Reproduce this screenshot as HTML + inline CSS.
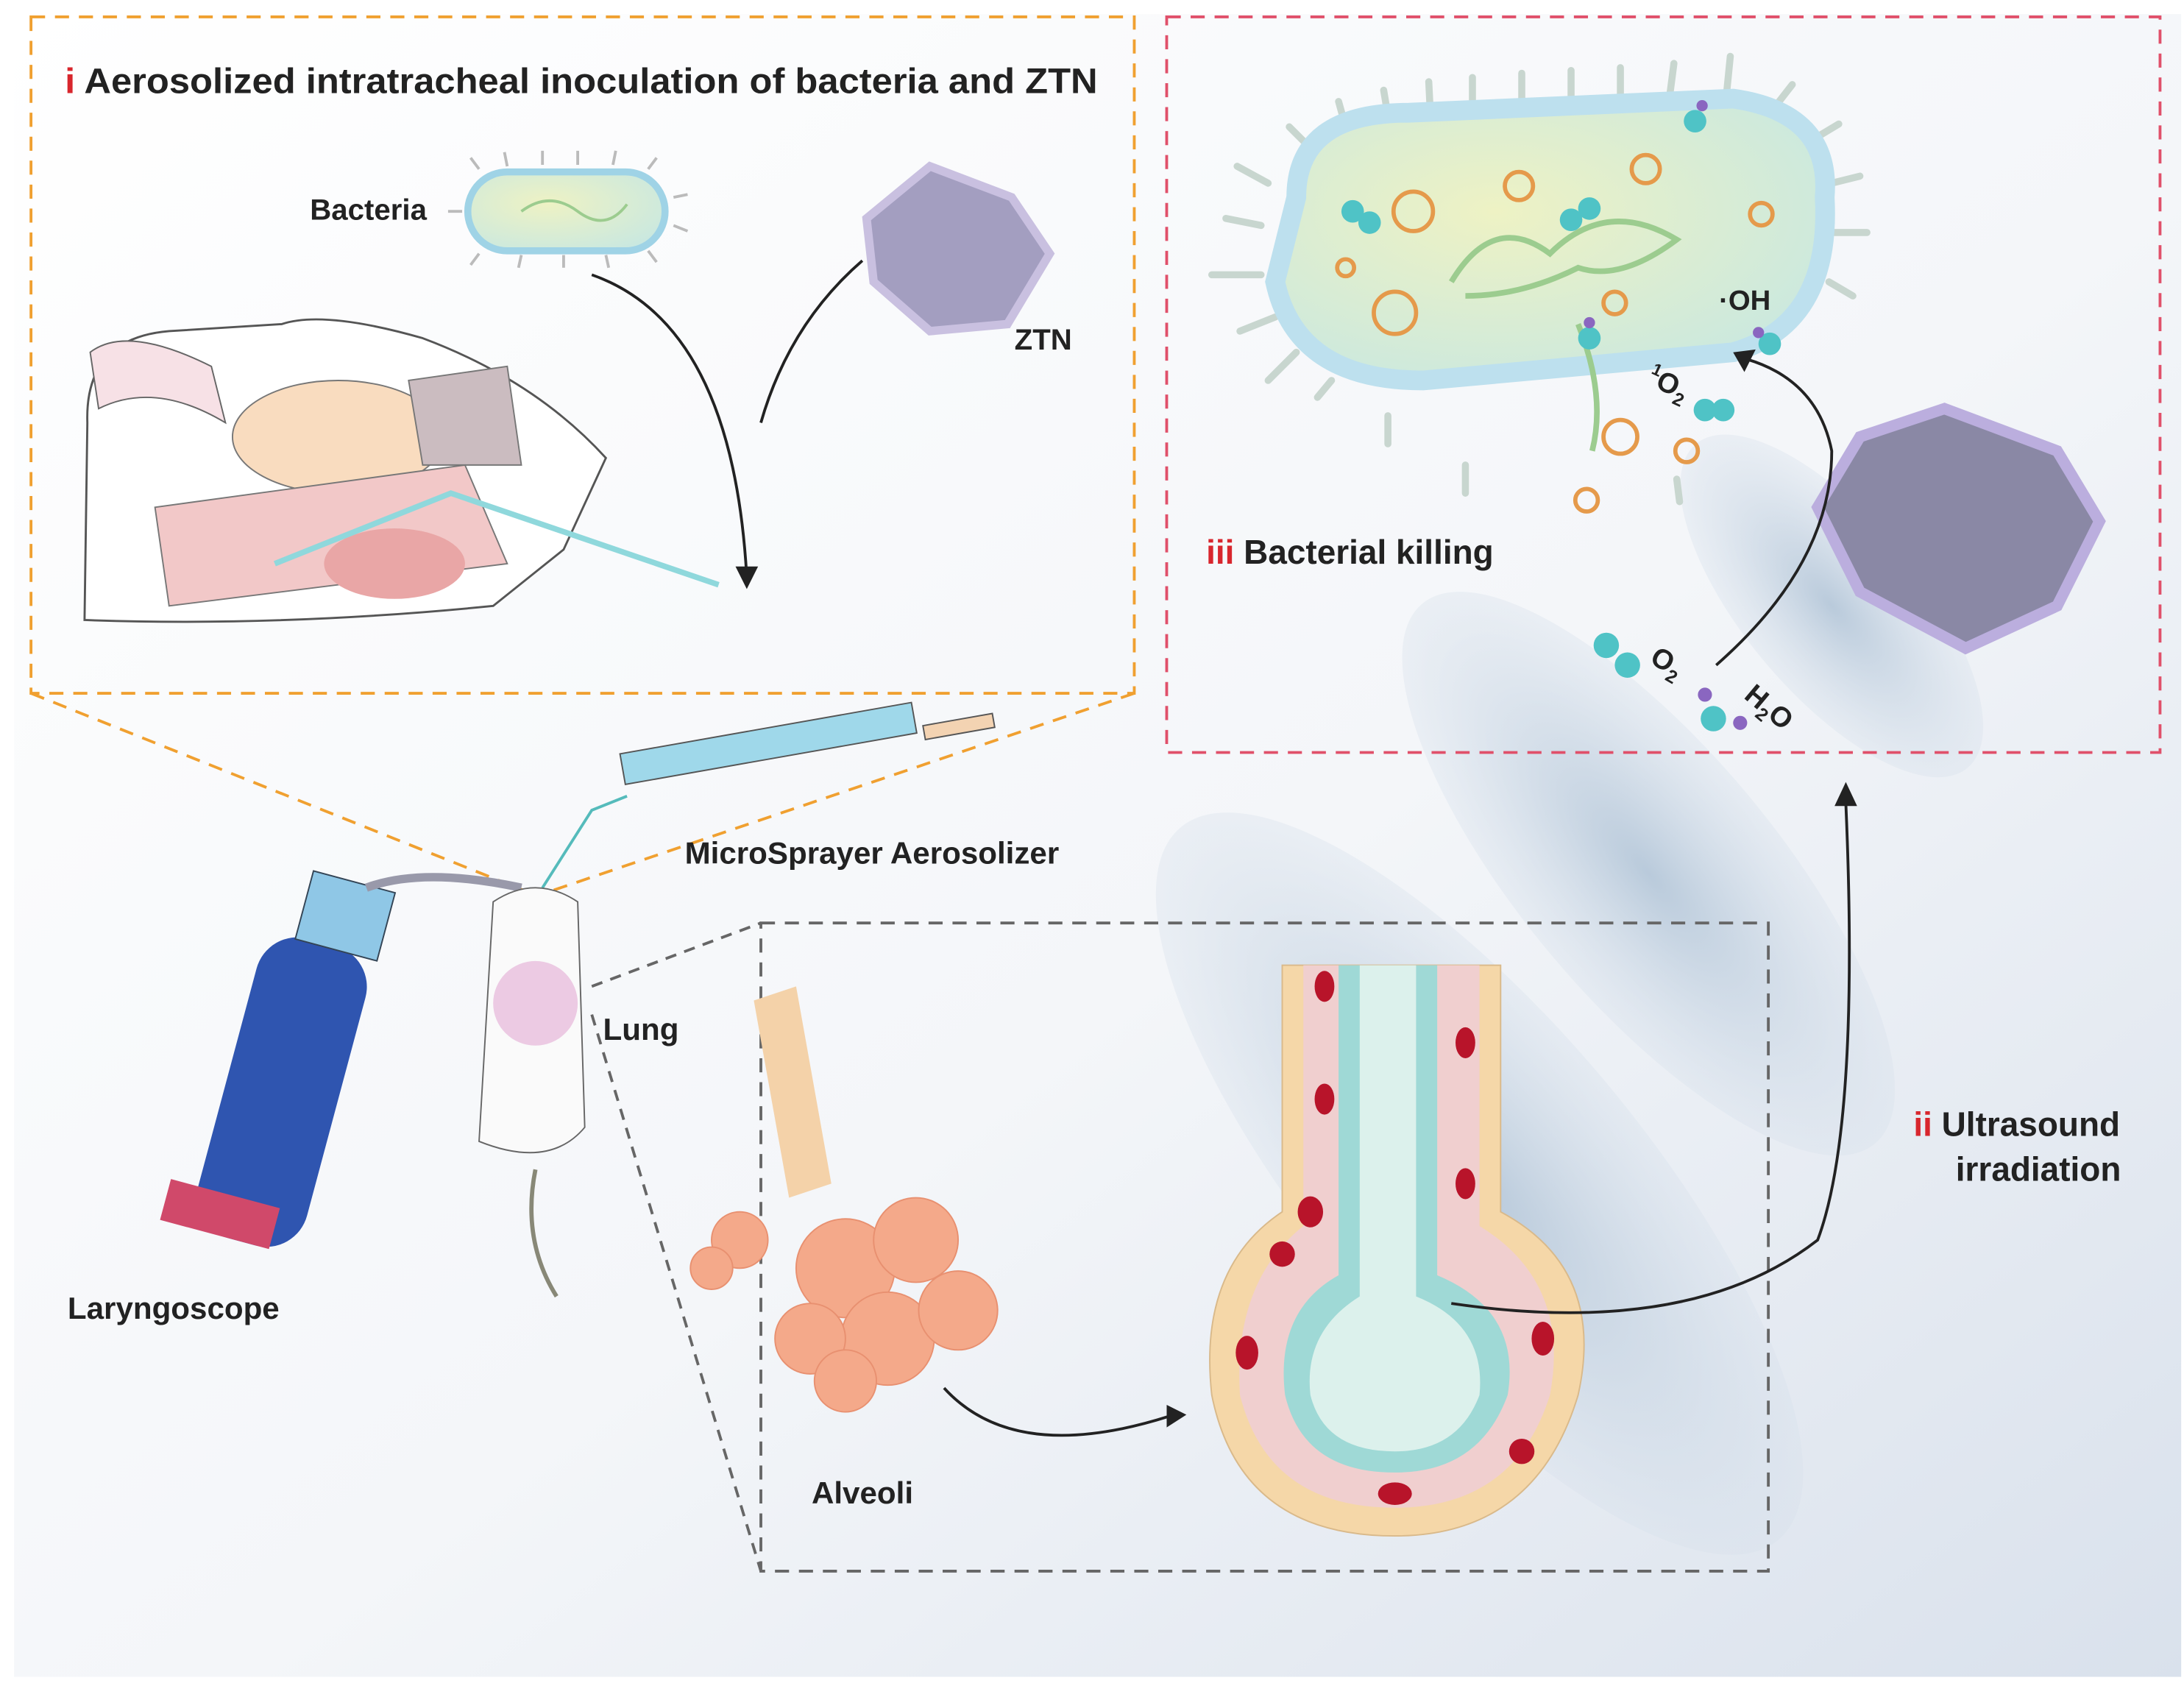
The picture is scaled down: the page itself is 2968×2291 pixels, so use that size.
<!DOCTYPE html>
<html><head><meta charset="utf-8"><style>
html,body{margin:0;padding:0;background:#fff}
svg{display:block}
text{font-family:"Liberation Sans",Arial,sans-serif;font-weight:bold;fill:#222}
</style></head><body>
<svg width="2968" height="2291" viewBox="0 0 1550 1196.5" preserveAspectRatio="none" xmlns="http://www.w3.org/2000/svg">
<defs>
<linearGradient id="bg" x1="0" y1="0" x2="1" y2="1">
<stop offset="0" stop-color="#ffffff"/><stop offset="0.55" stop-color="#f4f6f9"/><stop offset="1" stop-color="#d9e1ec"/>
</linearGradient>
<radialGradient id="ell" cx="0.5" cy="0.5" r="0.5">
<stop offset="0" stop-color="#b9cadb"/><stop offset="1" stop-color="#d6e0eb" stop-opacity="0.35"/>
</radialGradient>
<radialGradient id="bact" cx="0.4" cy="0.4" r="0.7">
<stop offset="0" stop-color="#eef2c4"/><stop offset="1" stop-color="#c9e8e0"/>
</radialGradient>
</defs>
<rect x="0" y="0" width="1550" height="1196.5" fill="#fff"/>
<rect x="10" y="10" width="1538" height="1180" fill="url(#bg)"/>
<g fill="url(#ell)">
<ellipse cx="1050" cy="840" rx="330" ry="115" transform="rotate(50 1050 840)"/>
<ellipse cx="1170" cy="620" rx="250" ry="90" transform="rotate(50 1170 620)"/>
<ellipse cx="1300" cy="430" rx="150" ry="62" transform="rotate(50 1300 430)"/>
</g>
<rect x="22" y="12" width="783" height="480" fill="none" stroke="#f0a030" stroke-width="2" stroke-dasharray="10 7"/>
<rect x="828" y="12" width="705" height="522" fill="none" stroke="#e0506a" stroke-width="2" stroke-dasharray="10 7"/>
<rect x="540" y="655" width="715" height="460" fill="none" stroke="#666" stroke-width="2" stroke-dasharray="10 7"/>
<line x1="22" y1="492" x2="372" y2="632" stroke="#f0a030" stroke-width="2" stroke-dasharray="10 7"/>
<line x1="805" y1="492" x2="392" y2="632" stroke="#f0a030" stroke-width="2" stroke-dasharray="10 7"/>
<line x1="420" y1="700" x2="540" y2="655" stroke="#666" stroke-width="2" stroke-dasharray="8 6"/>
<line x1="420" y1="720" x2="540" y2="1115" stroke="#666" stroke-width="2" stroke-dasharray="8 6"/>
<text x="46" y="66" font-size="25" textLength="733" lengthAdjust="spacingAndGlyphs"><tspan fill="#d8262d">i</tspan> Aerosolized intratracheal inoculation of bacteria and ZTN</text>
<text x="220" y="156" font-size="21">Bacteria</text>
<text x="720" y="248" font-size="21">ZTN</text>
<g stroke="#bbb" stroke-width="2">
<line x1="340" y1="120" x2="334" y2="112"/><line x1="360" y1="118" x2="358" y2="108"/><line x1="385" y1="117" x2="385" y2="107"/><line x1="410" y1="117" x2="410" y2="107"/><line x1="435" y1="117" x2="437" y2="107"/><line x1="460" y1="120" x2="466" y2="112"/><line x1="478" y1="140" x2="488" y2="138"/><line x1="478" y1="160" x2="488" y2="164"/>
<line x1="340" y1="180" x2="334" y2="188"/><line x1="370" y1="181" x2="368" y2="190"/><line x1="400" y1="181" x2="400" y2="190"/><line x1="430" y1="181" x2="432" y2="190"/><line x1="460" y1="178" x2="466" y2="186"/><line x1="328" y1="150" x2="318" y2="150"/>
</g>
<rect x="332" y="122" width="140" height="56" rx="28" fill="url(#bact)" stroke="#9fd3e6" stroke-width="5"/>
<path d="M370 150 Q390 135 410 150 Q430 165 445 145" fill="none" stroke="#9ccc8f" stroke-width="2"/>
<polygon points="660,118 718,140 745,180 715,230 660,235 620,200 615,155" fill="#a39ec0" stroke="#c9c0e0" stroke-width="6"/>
<path d="M420 195 Q520 230 530 410" fill="none" stroke="#222" stroke-width="2"/>
<path d="M612 185 Q560 230 540 300" fill="none" stroke="#222" stroke-width="2"/>
<polygon points="522,402 538,402 530,418" fill="#222"/>
<path d="M62 300 Q60 240 120 235 L200 230 Q230 220 300 240 Q380 270 430 325 L400 390 L350 430 Q200 445 60 440 Z" fill="#fff" stroke="#555" stroke-width="1.5"/>
<path d="M64 250 Q90 230 150 260 L160 300 Q110 270 70 290 Z" fill="#f7e1e6" stroke="#666"/>
<ellipse cx="240" cy="310" rx="75" ry="40" fill="#f9dcbf" stroke="#777"/>
<path d="M290 270 L360 260 L370 330 L300 330 Z" fill="#cbbcc0" stroke="#777"/>
<path d="M110 360 L330 330 L360 400 L120 430 Z" fill="#f2c8c8" stroke="#777"/>
<ellipse cx="280" cy="400" rx="50" ry="25" fill="#e9a6a6"/>
<path d="M195 400 L320 350 L510 415" fill="none" stroke="#8fd8dc" stroke-width="4"/>
<!-- panel iii bacterium spikes -->
<g stroke="#c8d6cf" stroke-width="5" stroke-linecap="round">
<line x1="900" y1="130" x2="878" y2="118"/><line x1="895" y1="160" x2="870" y2="155"/><line x1="895" y1="195" x2="860" y2="195"/><line x1="905" y1="225" x2="880" y2="235"/><line x1="920" y1="250" x2="900" y2="270"/>
<line x1="930" y1="105" x2="915" y2="90"/><line x1="955" y1="90" x2="950" y2="72"/><line x1="985" y1="82" x2="982" y2="64"/><line x1="1015" y1="78" x2="1014" y2="58"/><line x1="1045" y1="76" x2="1045" y2="55"/><line x1="1080" y1="74" x2="1080" y2="52"/><line x1="1115" y1="72" x2="1115" y2="50"/><line x1="1150" y1="70" x2="1150" y2="48"/><line x1="1185" y1="68" x2="1188" y2="45"/><line x1="1225" y1="70" x2="1228" y2="40"/><line x1="1258" y1="78" x2="1272" y2="60"/><line x1="1285" y1="100" x2="1305" y2="88"/><line x1="1300" y1="130" x2="1320" y2="125"/><line x1="1302" y1="165" x2="1325" y2="165"/><line x1="1298" y1="200" x2="1315" y2="210"/>
<line x1="985" y1="295" x2="985" y2="315"/><line x1="1040" y1="330" x2="1040" y2="350"/><line x1="1190" y1="340" x2="1192" y2="356"/><line x1="945" y1="270" x2="935" y2="282"/>
</g>
<path d="M920 140 Q920 80 1000 80 L1230 70 Q1300 80 1295 140 Q1300 230 1230 250 L1010 270 Q920 270 905 200 Z" fill="url(#bact)" stroke="#bde0ee" stroke-width="14"/>
<path d="M1030 200 Q1060 150 1100 180 Q1140 140 1190 170 Q1150 200 1120 190 Q1080 210 1040 210" fill="none" stroke="#9ccc8f" stroke-width="4"/>
<path d="M1120 230 Q1140 280 1130 320" fill="none" stroke="#9ccc8f" stroke-width="4"/>
<g fill="none" stroke="#e59a4b" stroke-width="3">
<circle cx="1003" cy="150" r="14"/><circle cx="1078" cy="132" r="10"/><circle cx="1168" cy="120" r="10"/><circle cx="990" cy="222" r="15"/><circle cx="1250" cy="152" r="8"/><circle cx="1150" cy="310" r="12"/><circle cx="1197" cy="320" r="8"/><circle cx="1126" cy="355" r="8"/><circle cx="955" cy="190" r="6"/><circle cx="1146" cy="215" r="8"/>
</g>
<g fill="#4fc3c6">
<circle cx="960" cy="150" r="8"/><circle cx="972" cy="158" r="8"/><circle cx="1115" cy="156" r="8"/><circle cx="1128" cy="148" r="8"/><circle cx="1203" cy="86" r="8"/><circle cx="1128" cy="240" r="8"/><circle cx="1256" cy="244" r="8"/><circle cx="1210" cy="291" r="8"/><circle cx="1223" cy="291" r="8"/>
<circle cx="1140" cy="458" r="9"/><circle cx="1155" cy="472" r="9"/><circle cx="1216" cy="510" r="9"/>
</g>
<g fill="#8a66c0"><circle cx="1210" cy="493" r="5"/><circle cx="1235" cy="513" r="5"/><circle cx="1208" cy="75" r="4"/><circle cx="1128" cy="229" r="4"/><circle cx="1248" cy="236" r="4"/></g>
<text x="1220" y="220" font-size="20">·OH</text>
<text x="1168" y="272" font-size="20" transform="rotate(25 1168 272)"><tspan font-size="12" dy="-8">1</tspan><tspan dy="8">O</tspan><tspan font-size="13" dy="5">2</tspan></text>
<text x="1170" y="470" font-size="20" transform="rotate(30 1170 470)">O<tspan font-size="13" dy="5">2</tspan></text>
<text x="1237" y="495" font-size="20" transform="rotate(40 1237 495)">H<tspan font-size="13" dy="5">2</tspan><tspan dy="-5">O</tspan></text>
<polygon points="1380,290 1460,320 1490,370 1460,430 1395,460 1320,420 1290,360 1320,310" fill="#8a88a5" stroke="#bbaede" stroke-width="8"/>
<path d="M1218 472 Q1300 400 1300 320 Q1290 270 1240 255" fill="none" stroke="#222" stroke-width="2"/>
<polygon points="1230,250 1246,248 1238,264" fill="#222"/>
<text x="856" y="400" font-size="24"><tspan fill="#d8262d">iii</tspan> Bacterial killing</text>
<rect x="440" y="535" width="210" height="22" fill="#9fd8ea" stroke="#555" transform="rotate(-10 440 535)"/>
<rect x="655" y="515" width="50" height="10" fill="#f3d3b2" stroke="#555" transform="rotate(-10 655 515)"/>
<path d="M445 565 L420 575 L385 630" fill="none" stroke="#5bb" stroke-width="2"/>
<text x="486" y="613" font-size="22">MicroSprayer Aerosolizer</text>
<rect x="160" y="665" width="80" height="220" rx="30" fill="#2f55b0" transform="rotate(15 200 775)"/>
<rect x="140" y="855" width="80" height="30" fill="#d0496a" transform="rotate(15 200 775)"/>
<rect x="215" y="625" width="60" height="50" fill="#8fc7e6" stroke="#345" transform="rotate(15 245 650)"/>
<path d="M260 630 Q300 615 370 630" fill="none" stroke="#99a" stroke-width="6"/>
<text x="48" y="936" font-size="22">Laryngoscope</text>
<path d="M350 640 Q380 620 410 640 L415 800 Q390 830 340 810 Z" fill="#fafafa" stroke="#666"/>
<circle cx="380" cy="712" r="30" fill="#e5b5d8" opacity="0.7"/>
<path d="M380 830 Q370 880 395 920" fill="none" stroke="#887" stroke-width="3"/>
<text x="428" y="738" font-size="22">Lung</text>
<path d="M535 710 L565 700 L590 840 L560 850 Z" fill="#f4d2a9"/>
<g fill="#f4a98a" stroke="#e89070">
<circle cx="600" cy="900" r="35"/><circle cx="650" cy="880" r="30"/><circle cx="630" cy="950" r="33"/><circle cx="680" cy="930" r="28"/><circle cx="575" cy="950" r="25"/><circle cx="525" cy="880" r="20"/><circle cx="505" cy="900" r="15"/><circle cx="600" cy="980" r="22"/>
</g>
<path d="M670 985 Q720 1040 830 1005" fill="none" stroke="#222" stroke-width="2"/>
<polygon points="828,997 842,1004 828,1013" fill="#222"/>
<text x="576" y="1067" font-size="22">Alveoli</text>
<path d="M910 685 L1065 685 L1065 860 Q1140 900 1120 990 Q1090 1090 990 1090 Q880 1090 860 990 Q850 900 910 860 Z" fill="#f5d7a8" stroke="#d9b98a"/>
<path d="M925 685 L1050 685 L1050 870 Q1115 910 1100 990 Q1075 1070 990 1070 Q900 1070 880 990 Q875 910 925 870 Z" fill="#f0cfcf"/>
<path d="M950 685 L1020 685 L1020 905 Q1080 930 1070 990 Q1050 1045 990 1045 Q925 1045 912 990 Q905 930 950 905 Z" fill="#9fd9d6"/>
<path d="M965 685 L1005 685 L1005 920 Q1055 940 1050 990 Q1035 1030 990 1030 Q940 1030 930 990 Q925 945 965 920 Z" fill="#dcf1ec"/>
<g fill="#b8142a"><ellipse cx="940" cy="700" rx="7" ry="11"/><ellipse cx="1040" cy="740" rx="7" ry="11"/><ellipse cx="940" cy="780" rx="7" ry="11"/><ellipse cx="1040" cy="840" rx="7" ry="11"/><ellipse cx="930" cy="860" rx="9" ry="11"/><ellipse cx="885" cy="960" rx="8" ry="12"/><ellipse cx="1095" cy="950" rx="8" ry="12"/><ellipse cx="990" cy="1060" rx="12" ry="8"/><ellipse cx="1080" cy="1030" rx="9" ry="9"/><ellipse cx="910" cy="890" rx="9" ry="9"/></g>
<path d="M1030 925 Q1200 950 1290 880 Q1320 800 1310 570" fill="none" stroke="#222" stroke-width="2"/>
<polygon points="1302,572 1318,572 1310,555" fill="#222"/>
<text x="1358" y="806" font-size="24"><tspan fill="#d8262d">ii</tspan> Ultrasound</text>
<text x="1388" y="838" font-size="24">irradiation</text>
</svg>
</body></html>
